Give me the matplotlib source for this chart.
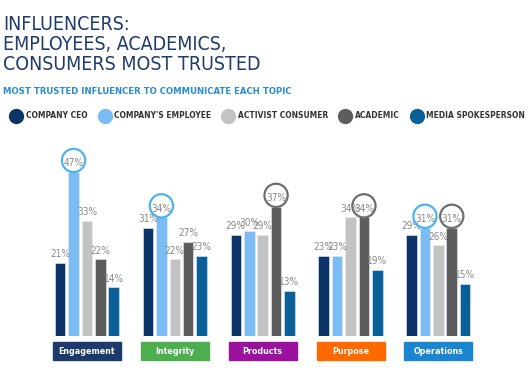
import os
import numpy as np
import matplotlib
matplotlib.use("Agg")
import matplotlib.pyplot as plt
import matplotlib.font_manager as fm
from matplotlib.lines import Line2D
from matplotlib.patches import Rectangle

# look for a narrow / condensed face, the reference uses one
def find_narrow():
    regular, bold = None, None
    for f in fm.fontManager.ttflist:
        base = os.path.basename(f.fname).lower()
        tag = (f.name + " " + base + " " + str(f.stretch)).lower()
        if not ("narrow" in tag or "condensed" in tag):
            continue
        if any(k in base for k in ("semi", "extra", "ultra", "italic", "oblique")):
            continue
        if f.style != "normal":
            continue
        if f.weight in (400, "normal", "regular") and regular is None:
            regular = f
        if f.weight in (700, "bold") and bold is None:
            bold = f
    return regular, bold

reg, bld = find_narrow()
if reg is not None:
    FP = fm.FontProperties(fname=reg.fname)
    FB = fm.FontProperties(fname=(bld or reg).fname)
    shrink = 1.0
else:
    FP = fm.FontProperties(family="Liberation Sans")
    FB = fm.FontProperties(family="Liberation Sans", weight="bold")
    shrink = 0.85

# data
topics = ["Engagement", "Integrity", "Products", "Purpose", "Operations"]
topic_colors = ["#1c3a6b", "#4cae4f", "#99119c", "#ff6a00", "#1a86cf"]
influencers = ["COMPANY CEO", "COMPANY'S EMPLOYEE", "ACTIVIST CONSUMER", "ACADEMIC", "MEDIA SPOKESPERSON"]
bar_colors = ["#0c3468", "#7bbcf5", "#c3c3c3", "#5d5d5d", "#0b5f97"]
values = {
    "COMPANY CEO":        [21, 31, 29, 23, 29],
    "COMPANY'S EMPLOYEE": [47, 34, 30, 23, 31],
    "ACTIVIST CONSUMER":  [33, 22, 29, 34, 26],
    "ACADEMIC":           [22, 27, 37, 34, 31],
    "MEDIA SPOKESPERSON": [14, 23, 13, 19, 15],
}
# (topic index, influencer index) that are circled
highlights = [(0, 1), (1, 1), (2, 3), (3, 3), (4, 1), (4, 3)]
ring_colors = {1: "#4db3ee", 3: "#6e6e6e"}

W, H = 530, 375
fig = plt.figure(figsize=(W / 100, H / 100), dpi=100)

# axes placed in pixels: x 43..482, baseline y=336, 3.49 px per %
x0, x1 = 43, 482.3
base, top = 336, 336 - 60 * 3.49
ax = fig.add_axes([x0 / W, (H - base) / H, (x1 - x0) / W, (base - top) / H])
ax.set_xlim(-0.5, 4.5)
ax.set_ylim(0, 60)
ax.axis("off")

def fp(src, size):
    p = src.copy()
    p.set_size(size * shrink)
    return p

pitch = 0.1525
bw = 0.12
x = np.arange(len(topics))
for i, name in enumerate(influencers):
    xs = x + (i - 2) * pitch
    ax.bar(xs, values[name], width=bw, color=bar_colors[i], edgecolor="#e8eef5", linewidth=0.4)
    for xx, v in zip(xs, values[name]):
        ax.text(xx, v + 1.0, f"{v}%", ha="center", va="bottom", fontproperties=fp(FP, 7.2),
                color="#8a8a8a")

for t, i in highlights:
    v = values[influencers[i]][t]
    ax.scatter([x[t] + (i - 2) * pitch], [v + 3.3], s=280, facecolors="none",
               edgecolors=ring_colors[i], linewidths=1.6, clip_on=False, zorder=5)

# category boxes under each group
for t, (name, c) in enumerate(zip(topics, topic_colors)):
    ax.add_patch(Rectangle((x[t] - 0.387, -6.9), 0.774, 5.1, color=c, clip_on=False))
    ax.text(x[t], -4.35, name, ha="center", va="center", fontproperties=fp(FB, 6.4),
            color="white", clip_on=False)

# title
fig.text(3 / W, 1 - 15.5 / H, "INFLUENCERS:\nEMPLOYEES, ACADEMICS,\nCONSUMERS MOST TRUSTED",
         ha="left", va="top", fontproperties=fp(FP, 14), color="#1f3b6c", linespacing=1.05)
fig.text(3 / W, 1 - 91 / H, "MOST TRUSTED INFLUENCER TO COMMUNICATE EACH TOPIC",
         ha="left", va="center", fontproperties=fp(FB, 6.8), color="#2a8bcf")

handles = [Line2D([], [], marker="o", linestyle="none", markersize=10,
                  markerfacecolor=c, markeredgecolor=c) for c in bar_colors]
fig.legend(handles, influencers, ncol=5, loc="center left", bbox_to_anchor=(8 / W, 1 - 116 / H),
           frameon=False, handletextpad=0.55, columnspacing=1.45, borderaxespad=0,
           handlelength=1.2, prop=fp(FB, 6), labelcolor="#333333")

fig.savefig("out.png", dpi=100)
